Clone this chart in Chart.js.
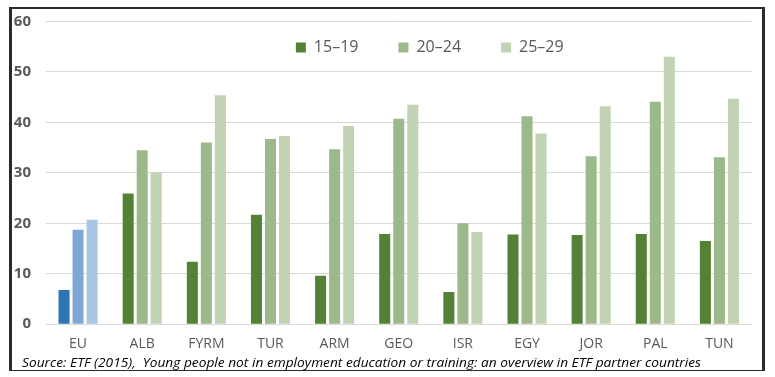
<!DOCTYPE html>
<html>
<head>
<meta charset="utf-8">
<script src="https://cdn.jsdelivr.net/npm/chart.js@4.4.1/dist/chart.umd.min.js"></script>
<style>
  html, body { margin: 0; padding: 0; background: #ffffff; }
  body { width: 775px; height: 377px; position: relative; overflow: hidden; }
  #frame { position: absolute; left: 9px; top: 7px; width: 756px; height: 364px; box-sizing: border-box;
           border-left: 3px solid #2b2b2b; border-right: 3px solid #2b2b2b; border-top: 2px solid #2b2b2b; border-bottom: 1px solid #2b2b2b; }
  #wrap { position: absolute; left: 12px; top: 9px; width: 749px; height: 354px; }
  #source { position: absolute; left: 22px; top: 353px; font-family: "Open Sans", sans-serif; font-style: italic;
            font-size: 13.5px; color: #000; white-space: nowrap; transform-origin: 0 0; }
</style>
</head>
<body>
<div id="frame"></div>
<div id="wrap"><canvas id="c"></canvas></div>
<div id="source">Source: ETF (2015),&nbsp; Young people not in employment education or training: an overview in ETF partner countries</div>
<script>
const categories = ["EU", "ALB", "FYRM", "TUR", "ARM", "GEO", "ISR", "EGY", "JOR", "PAL", "TUN"];
const seriesNames = ["15\u201319", "20\u201324", "25\u201329"];
const age15_19 = [6.8, 25.9, 12.4, 21.7, 9.6, 17.9, 6.4, 17.8, 17.7, 17.9, 16.5];
const age20_24 = [18.7, 34.5, 36.0, 36.7, 34.7, 40.7, 20.0, 41.2, 33.3, 44.1, 33.1];
const age25_29 = [20.7, 30.1, 45.4, 37.3, 39.3, 43.5, 18.3, 37.8, 43.2, 53.0, 44.7];
const yTicks = [0, 10, 20, 30, 40, 50, 60];

const greens = ["#548235", "#9db98a", "#c2d3b4"];
const blues = ["#2e75b6", "#7ea7d6", "#a7c6e4"];

function colorFor(i) {
  return ctx => (ctx.type === 'data' && ctx.dataIndex === 0) ? blues[i] : greens[i];
}

// legend sits inside the plot area, as in the reference
const legendInside = {
  id: 'legendInside',
  beforeLayout(chart) {
    const lg = chart.legend;
    if (lg && !lg._zeroPatched) {
      const orig = lg.fit;
      lg.fit = function () { orig.call(this); this._realHeight = this.height; this.height = 0; };
      lg._zeroPatched = true;
    }
  },
  afterLayout(chart) {
    const lg = chart.legend;
    if (!lg) return;
    const dx = 31;
    lg.left = chart.chartArea.left + dx;
    lg.right = chart.chartArea.right + dx;
    lg.top = 40 - 40 - 9.6;
    lg.bottom = lg.top + (lg._realHeight || 100);
    lg.height = lg.bottom - lg.top;
  }
};

new Chart(document.getElementById('c'), {
  type: 'bar',
  data: {
    labels: categories,
    datasets: [age15_19, age20_24, age25_29].map((d, i) => ({
      label: seriesNames[i],
      data: d,
      backgroundColor: colorFor(i),
      borderWidth: 0,
      categoryPercentage: 0.656,
      barPercentage: 0.786
    }))
  },
  options: {
    responsive: true,
    maintainAspectRatio: false,
    animation: false,
    layout: { padding: { top: 12.5, right: 9.5, left: 0, bottom: 0 } },
    plugins: {
      legend: {
        position: 'top',
        align: 'center',
        labels: {
          boxWidth: 10, boxHeight: 10, padding: 40,
          color: '#595959',
          font: { family: 'Open Sans', size: 16 },
          generateLabels(chart) {
            const items = Chart.defaults.plugins.legend.labels.generateLabels(chart);
            items.forEach((it, i) => { it.fillStyle = greens[i]; it.strokeStyle = greens[i]; it.lineWidth = 0; });
            return items;
          }
        }
      },
      tooltip: { enabled: false }
    },
    scales: {
      x: {
        grid: { display: false, drawTicks: false },
        border: { display: false },
        ticks: { color: '#595959', font: { family: 'Open Sans', size: 14 }, padding: 11 }
      },
      y: {
        min: 0, max: 60,
        afterFit(scale) { scale.width = 34; },
        afterBuildTicks(scale) { scale.ticks = yTicks.map(v => ({ value: v })); },
        grid: { color: '#d9d9d9', lineWidth: 1, drawTicks: true, tickLength: 15, tickColor: 'rgba(0,0,0,0)' },
        border: { display: false },
        ticks: { color: '#595959', font: { family: 'Open Sans', size: 15, weight: 'bold' }, padding: 0 }
      }
    }
  },
  plugins: [legendInside]
});

// fit the source line to its width in the reference
(function () {
  const el = document.getElementById('source');
  const w = el.getBoundingClientRect().width;
  if (w > 0) el.style.transform = 'scaleX(' + (679 / w) + ')';
})();
</script>
</body>
</html>
